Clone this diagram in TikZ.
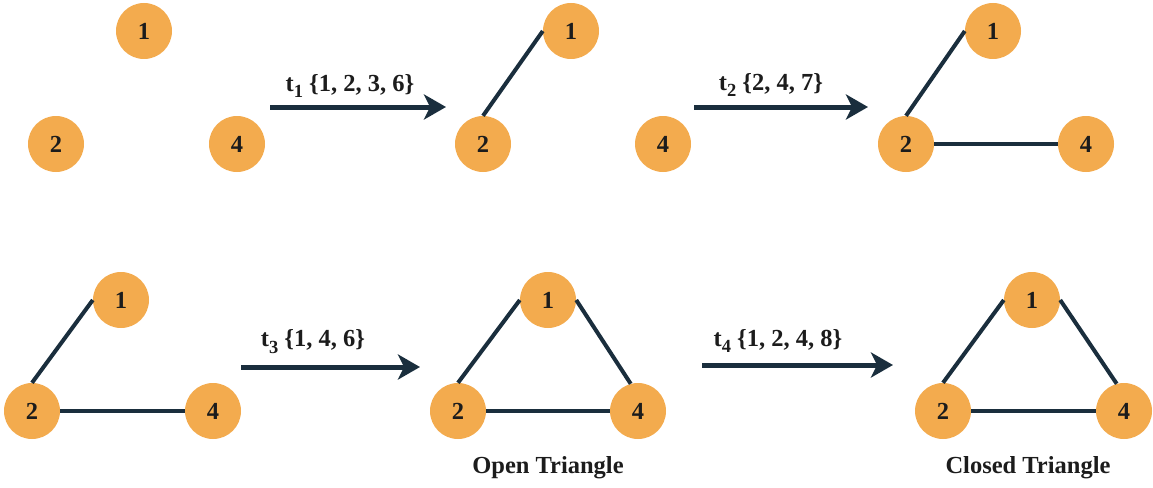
\documentclass[tikz,border=0pt]{standalone}
\usepackage{fontspec}
\setmainfont{Liberation Serif}
\usetikzlibrary{arrows.meta}
\definecolor{vertexfill}{HTML}{F3AB4E}
\definecolor{inkdark}{HTML}{1A2E3D}
\definecolor{textdark}{HTML}{1C1C1C}
\newcommand{\tsub}[1]{\raisebox{-0.28em}{\fontsize{18.5}{18.5}\selectfont #1}}
\tikzset{
  vertex/.style={circle, fill=vertexfill, minimum size=56pt, inner sep=0pt,
    text=textdark, font=\fontsize{24.5}{24.5}\selectfont\bfseries},
  link/.style={draw=inkdark, line width=4pt},
  steparrow/.style={draw=inkdark, line width=5pt,
    -{Stealth[length=22pt, width=25pt, inset=6pt]}},
  steplabel/.style={text=textdark, font=\fontsize{24.5}{24.5}\selectfont\bfseries, inner sep=0pt},
  caption/.style={text=textdark, font=\fontsize{24.5}{24.5}\selectfont\bfseries, inner sep=0pt}
}
\begin{document}
\begin{tikzpicture}[x=1pt, y=-1pt]
\useasboundingbox (0,0) rectangle (1153,487);

% initial state: isolated vertices
\node[vertex] (a1) at (144,31) {1};
\node[vertex] (a2) at (56,144) {2};
\node[vertex] (a4) at (237,144) {4};

% step t1
\coordinate (t1s) at (270,107);
\coordinate (t1e) at (446,107);
\draw[steparrow] (t1s) -- (t1e);
\node[steplabel] (l1) at (350,86) {t\tsub{1} \{1, 2, 3, 6\}};

\node[vertex] (b1) at (571,31) {1};
\node[vertex] (b2) at (483,144) {2};
\node[vertex] (b4) at (663,144) {4};
\draw[link] (b1.west) -- (b2.north);

% step t2
\coordinate (t2s) at (694,107);
\coordinate (t2e) at (868,107);
\draw[steparrow] (t2s) -- (t2e);
\node[steplabel] (l2) at (771,85) {t\tsub{2} \{2, 4, 7\}};

\node[vertex] (c1) at (993,31) {1};
\node[vertex] (c2) at (906,144) {2};
\node[vertex] (c4) at (1086,144) {4};
\draw[link] (c1.west) -- (c2.north);
\draw[link] (c2.east) -- (c4.west);

% second row
\node[vertex] (d1) at (121,300) {1};
\node[vertex] (d2) at (32,411) {2};
\node[vertex] (d4) at (213,411) {4};
\draw[link] (d1.west) -- (d2.north);
\draw[link] (d2.east) -- (d4.west);

% step t3
\coordinate (t3s) at (241,367);
\coordinate (t3e) at (420,367);
\draw[steparrow] (t3s) -- (t3e);
\node[steplabel] (l3) at (313,342) {t\tsub{3} \{1, 4, 6\}};

\node[vertex] (e1) at (548,300) {1};
\node[vertex] (e2) at (458,411) {2};
\node[vertex] (e4) at (638,411) {4};
\draw[link] (e1.west) -- (e2.north);
\draw[link] (e1.east) -- (e4.105);
\draw[link] (e2.east) -- (e4.west);
\node[caption] (open) at (548,468) {Open Triangle};

% step t4
\coordinate (t4s) at (702,365);
\coordinate (t4e) at (893,365);
\draw[steparrow] (t4s) -- (t4e);
\node[steplabel] (l4) at (778,341) {t\tsub{4} \{1, 2, 4, 8\}};

\node[vertex] (f1) at (1032,300) {1};
\node[vertex] (f2) at (943,411) {2};
\node[vertex] (f4) at (1124,411) {4};
\draw[link] (f1.west) -- (f2.north);
\draw[link] (f1.east) -- (f4.105);
\draw[link] (f2.east) -- (f4.west);
\node[caption] (closed) at (1028,468) {Closed Triangle};
\end{tikzpicture}
\end{document}
